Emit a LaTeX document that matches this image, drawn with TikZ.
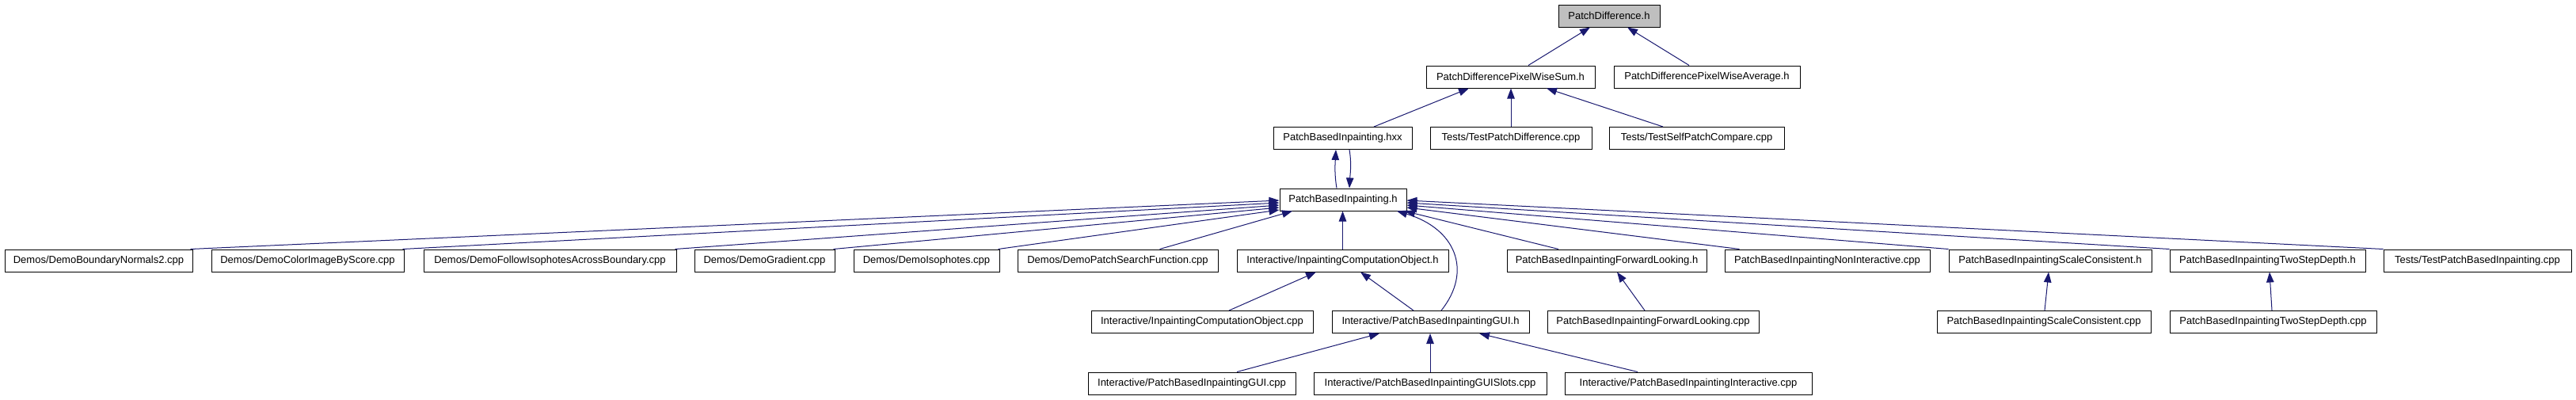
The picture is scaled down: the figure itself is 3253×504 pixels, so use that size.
\documentclass[tikz,border=0pt]{standalone}
\usepackage{fontspec}
\setmainfont{Liberation Sans}
\usetikzlibrary{arrows.meta}
\definecolor{edgeblue}{HTML}{191970}
\definecolor{rootgray}{HTML}{BFBFBF}
\begin{document}
\begin{tikzpicture}[x=1pt,y=-1pt,
  box/.style={draw=black,line width=1pt,fill=white,minimum height=28pt,inner sep=0pt,
    font=\fontsize{13pt}{15pt}\selectfont,anchor=center},
  rootbox/.style={box,fill=rootgray},
  edge/.style={draw=edgeblue,line width=1pt,-{Triangle[length=13pt,width=9.5pt,fill=edgeblue]}}]
\useasboundingbox (0,0) rectangle (3253,504);
% row 0
\node[rootbox,minimum width=128pt] (pd) at (2032,20) {PatchDifference.h};
% row 1
\node[box,minimum width=213pt] (sum) at (1907.5,97) {PatchDifferencePixelWiseSum.h};
\node[box,minimum width=235pt] (avg) at (2155.5,97) {PatchDifferencePixelWiseAverage.h};
% row 2
\node[box,minimum width=175pt] (hxx) at (1695.5,174.5) {PatchBasedInpainting.hxx};
\node[box,minimum width=204pt] (testpd) at (1908,174.5) {Tests/TestPatchDifference.cpp};
\node[box,minimum width=221pt] (testspc) at (2142.5,174.5) {Tests/TestSelfPatchCompare.cpp};
% row 3
\node[box,minimum width=160pt] (pbih) at (1696,252) {PatchBasedInpainting.h};
% row 4
\node[box,minimum width=237pt] (dbn) at (124.5,329) {Demos/DemoBoundaryNormals2.cpp};
\node[box,minimum width=243pt] (dcis) at (388.5,329) {Demos/DemoColorImageByScore.cpp};
\node[box,minimum width=319pt] (dfiab) at (694.5,329) {Demos/DemoFollowIsophotesAcrossBoundary.cpp};
\node[box,minimum width=177pt] (dg) at (965.5,329) {Demos/DemoGradient.cpp};
\node[box,minimum width=184pt] (di) at (1170,329) {Demos/DemoIsophotes.cpp};
\node[box,minimum width=253pt] (dpsf) at (1411.5,329) {Demos/DemoPatchSearchFunction.cpp};
\node[box,minimum width=267pt] (icoh) at (1695.5,329) {Interactive/InpaintingComputationObject.h};
\node[box,minimum width=252pt] (flh) at (2029,329) {PatchBasedInpaintingForwardLooking.h};
\node[box,minimum width=259pt] (ni) at (2307.5,329) {PatchBasedInpaintingNonInteractive.cpp};
\node[box,minimum width=256pt] (sch) at (2589,329) {PatchBasedInpaintingScaleConsistent.h};
\node[box,minimum width=247pt] (tsdh) at (2863.5,329) {PatchBasedInpaintingTwoStepDepth.h};
\node[box,minimum width=237pt] (tpbi) at (3128.5,329) {Tests/TestPatchBasedInpainting.cpp};
% row 5
\node[box,minimum width=280pt] (icocpp) at (1518,406.5) {Interactive/InpaintingComputationObject.cpp};
\node[box,minimum width=249pt] (guih) at (1806.5,406.5) {Interactive/PatchBasedInpaintingGUI.h};
\node[box,minimum width=267pt] (flcpp) at (2087.5,406.5) {PatchBasedInpaintingForwardLooking.cpp};
\node[box,minimum width=270pt] (sccpp) at (2581,406.5) {PatchBasedInpaintingScaleConsistent.cpp};
\node[box,minimum width=261pt] (tsdcpp) at (2870.5,406.5) {PatchBasedInpaintingTwoStepDepth.cpp};
% row 6
\node[box,minimum width=262pt] (guicpp) at (1505,484) {Interactive/PatchBasedInpaintingGUI.cpp};
\node[box,minimum width=294pt] (guislots) at (1806,484) {Interactive/PatchBasedInpaintingGUISlots.cpp};
\node[box,minimum width=312pt] (inter) at (2132,484) {Interactive/PatchBasedInpaintingInteractive.cpp};
% edges rows 0-2
\draw[edge] ([xshift=22.5pt]sum.north) -- ([xshift=-24pt]pd.south);
\draw[edge] ([xshift=-22.5pt]avg.north) -- ([xshift=23pt]pd.south);
\draw[edge] ([xshift=39.5pt]hxx.north) -- ([xshift=-52.5pt]sum.south);
\draw[edge] (testpd.north) -- (testpd.north |- sum.south);
\draw[edge] ([xshift=-42.5pt]testspc.north) -- ([xshift=45.5pt]sum.south);
% hxx <-> h
\draw[edge] ([xshift=-8pt]pbih.north) .. controls +(-3,-18) and +(-1,18) .. ([xshift=-8.5pt]hxx.south);
\draw[edge] ([xshift=8.5pt]hxx.south) .. controls +(3,18) and +(1,-18) .. ([xshift=8pt]pbih.north);
% fan to PatchBasedInpainting.h
\draw[edge] ([xshift=-3pt]dbn.north east) -- ([yshift=-1pt]pbih.west);
\draw[edge] ([xshift=-2pt]dcis.north east) -- ([yshift=-4pt]pbih.west);
\draw[edge] ([xshift=-2pt]dfiab.north east) -- ([yshift=-7pt]pbih.west);
\draw[edge] ([xshift=-2pt]dg.north east) -- ([yshift=-10pt]pbih.west);
\draw[edge] ([xshift=-2pt]di.north east) -- ([yshift=-13pt]pbih.west);
\draw[edge] ([xshift=53pt]dpsf.north) -- ([xshift=-64pt]pbih.south);
\draw[edge] (icoh.north) -- (icoh.north |- pbih.south);
\draw[edge] ([xshift=-61pt]flh.north) -- ([xshift=78pt]pbih.south);
\draw[edge] ([xshift=-111pt]ni.north) -- ([yshift=-10pt]pbih.east);
\draw[edge] (sch.north west) -- ([yshift=-7pt]pbih.east);
\draw[edge] (tsdh.north west) -- ([yshift=-4pt]pbih.east);
\draw[edge] (tpbi.north west) -- ([yshift=-1pt]pbih.east);
\draw[edge] ([xshift=13.5pt]guih.north) .. controls +(40,-50) and +(74,22) .. ([xshift=68pt]pbih.south);
% lower edges
\draw[edge] ([xshift=34pt]icocpp.north) -- ([xshift=-33.5pt]icoh.south);
\draw[edge] ([xshift=-21.5pt]guih.north) -- ([xshift=22.5pt]icoh.south);
\draw[edge] ([xshift=-10.5pt]flcpp.north) -- ([xshift=13pt]flh.south);
\draw[edge] ([xshift=57pt]guicpp.north) -- ([xshift=-64.5pt]guih.south);
\draw[edge] (guislots.north) -- (guislots.north |- guih.south);
\draw[edge] ([xshift=-64pt]inter.north) -- ([xshift=61.5pt]guih.south);
\draw[edge] ([xshift=1pt]sccpp.north) -- ([xshift=-2pt]sch.south);
\draw[edge] ([xshift=-1.5pt]tsdcpp.north) -- ([xshift=2.5pt]tsdh.south);
\end{tikzpicture}
\end{document}
